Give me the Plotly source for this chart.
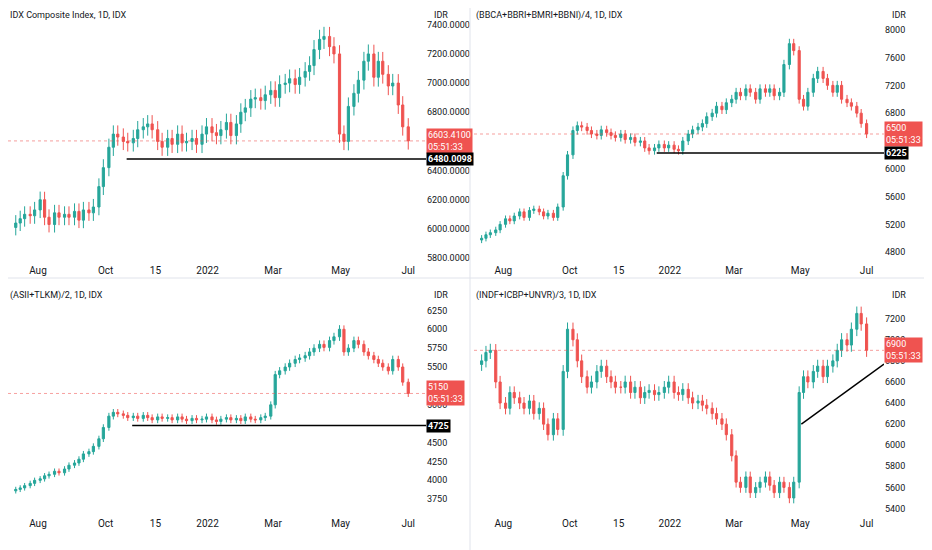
import pandas as pd
import plotly.graph_objects as go

p1 = [6040,6070,6100,
      6090,6130,6200,6080,6030,6110,6080,
      6100,6080,6120,6060,6130,6110,6150,
      6290,6420,6560,6650,6630,6600,6590,
      6620,6680,6700,6720,6680,6600,6560,
      6620,6580,6650,6590,6600,6620,6580,
      6650,6700,6660,6640,6680,6730,6640,
      6720,6800,6830,6890,6900,6880,6920,
      6950,6900,6990,7000,7030,6990,7040,
      7080,7120,7230,7300,7320,7250,7200,
      6650,6600,6840,6930,7020,7150,7200,
      7040,7150,7060,6980,7000,6850,6700,6603.41]
p2 = [5000,5050,5080,
      5120,5200,5280,5250,5320,5380,5300,
      5400,5420,5380,5320,5360,5300,5450,
      5900,6200,6550,6620,6600,6550,6500,
      6480,6560,6520,6480,6450,6500,6420,
      6450,6380,6400,6300,6260,6300,6350,
      6300,6340,6280,6260,6400,6500,6560,
      6600,6650,6750,6800,6900,6850,6950,
      7000,7100,7050,7150,7100,7000,7150,
      7100,7150,7050,7100,7500,7800,7700,
      7000,6900,7100,7300,7400,7300,7200,
      7100,7200,7000,6950,6900,6800,6650,6500]
p3 = [3880,3900,3930,
      3960,4000,4020,4060,4080,4120,4100,
      4150,4200,4230,4280,4350,4380,4450,
      4550,4700,4850,4900,4880,4860,4830,
      4850,4820,4860,4830,4800,4840,4820,
      4830,4800,4840,4810,4790,4820,4800,
      4810,4840,4800,4780,4810,4830,4800,
      4820,4790,4840,4810,4800,4830,4850,
      5000,5400,5450,5500,5550,5600,5620,
      5650,5700,5750,5800,5760,5850,5900,
      6000,5700,5750,5850,5800,5700,5650,
      5600,5550,5500,5450,5600,5500,5300,5150]
p4 = [6800,6880,6900,
      6600,6400,6350,6500,6450,6400,6350,
      6420,6300,6350,6200,6100,6250,6150,
      6700,7100,7000,6800,6650,6550,6600,
      6700,6750,6650,6600,6550,6550,6600,
      6500,6550,6450,6500,6520,6480,6500,
      6550,6600,6500,6480,6530,6450,6400,
      6420,6380,6350,6300,6250,6200,6100,
      5900,5650,5600,5700,5550,5600,5650,
      5700,5620,5550,5650,5600,5500,5650,
      6500,6650,6600,6700,6750,6650,6750,
      6800,6900,7000,6950,7100,7250,7150,6900]

titles = ["IDX Composite Index, 1D, IDX", "(BBCA+BBRI+BMRI+BBNI)/4, 1D, IDX",
          "(ASII+TLKM)/2, 1D, IDX", "(INDF+ICBP+UNVR)/3, 1D, IDX"]
last_labels = ["6603.4100", "6500", "5150", "6900"]
level_labels = ["6480.0098", "6225", "4725", None]
levels = [6480.0098, 6225, 4725, None]
level_start = ["2021-10-20", "2021-12-20", "2021-10-25", None]
trend = [("2022-05-02", 6200), ("2022-07-17", 6770)]
yticks = [list(range(5800, 7401, 200)), list(range(4800, 8001, 400)),
          list(range(3750, 6251, 250)), list(range(5400, 7201, 200))]
yranges = [[5766, 7515], [4644, 8313], [3528, 6546], [5329, 7491]]
xtick_dates = ["2021-08-01", "2021-10-01", "2021-11-15", "2022-01-01", "2022-03-01", "2022-05-01", "2022-07-01"]
xtick_text = ["Aug", "Oct", "15", "2022", "Mar", "May", "Jul"]

GREEN, RED = "#26a69a", "#ef5350"
xdoms = [[0, 418/932], [466/932, 876/932]]
ydoms = [[1-255/550, 1], [1-508/550, 1-280/550]]

fig = go.Figure()
for i, closes in enumerate([p1, p2, p3, p4]):
    n = len(closes)
    dates = pd.date_range("2021-07-12", "2022-07-01", periods=n).normalize()
    opens = [closes[0]*0.995] + closes[:-1]
    w = [c*0.009 for c in closes]
    highs = [max(o, c)+k for o, c, k in zip(opens, closes, w)]
    lows = [min(o, c)-k for o, c, k in zip(opens, closes, w)]
    xa = "x" if i == 0 else f"x{i+1}"
    ya = "y" if i == 0 else f"y{i+1}"
    fig.add_trace(go.Candlestick(x=dates, open=opens, high=highs, low=lows, close=closes,
                                 increasing=dict(line=dict(color=GREEN, width=1), fillcolor=GREEN),
                                 decreasing=dict(line=dict(color=RED, width=1), fillcolor=RED),
                                 xaxis=xa, yaxis=ya, showlegend=False, whiskerwidth=0))
    r, c = divmod(i, 2)
    sfx = "" if i == 0 else str(i+1)
    fig.layout["xaxis"+sfx] = dict(domain=xdoms[c], anchor=ya, range=["2021-07-05", "2022-07-17"],
                                  tickvals=xtick_dates, ticktext=xtick_text, showgrid=False,
                                  rangeslider=dict(visible=False), ticks="", showline=False,
                                  tickfont=dict(size=10, color="#131722"))
    fmt = (lambda v: f"{v:.4f}") if i == 0 else (lambda v: str(v))
    fig.layout["yaxis"+sfx] = dict(domain=ydoms[r], anchor=xa, side="right", range=yranges[i],
                                  tickvals=yticks[i], ticktext=[fmt(v) for v in yticks[i]],
                                  showgrid=False, zeroline=False, tickfont=dict(size=9, color="#131722"))
    xd, yd = f"x{sfx} domain", f"y{sfx} domain"
    fig.add_annotation(xref=xd, yref=yd, x=0.0, y=1.0, text=titles[i], showarrow=False,
                       xanchor="left", yanchor="top", font=dict(size=9, color="#131722"))
    fig.add_annotation(xref=xd, yref=yd, x=1.015, y=1.0, text="IDR", showarrow=False,
                       xanchor="left", yanchor="top", font=dict(size=9, color="#131722"))
    fig.add_shape(type="line", xref=xd, yref=ya, x0=0, x1=1, y0=closes[-1], y1=closes[-1],
                  line=dict(color="rgba(239,83,80,0.7)", width=0.8, dash="dot"))
    fig.add_annotation(xref=xd, yref=ya, x=1.0, y=closes[-1], text=last_labels[i] + "<br>05:51:33",
                       showarrow=False, xanchor="left", yanchor="middle", bgcolor=RED,
                       font=dict(size=9, color="white"), align="left", borderpad=1)
    if levels[i] is not None:
        fig.add_shape(type="line", xref=xa, yref=ya, x0=level_start[i], x1="2022-07-17",
                      y0=levels[i], y1=levels[i], line=dict(color="black", width=1.5))
        fig.add_annotation(xref=xd, yref=ya, x=1.0, y=levels[i], text="<b>"+level_labels[i]+"</b>",
                           showarrow=False, xanchor="left", yanchor="middle", bgcolor="black",
                           font=dict(size=9, color="white"), borderpad=1)
    else:
        fig.add_shape(type="line", xref=xa, yref=ya, x0=trend[0][0], x1=trend[1][0],
                      y0=trend[0][1], y1=trend[1][1], line=dict(color="black", width=1.5))

fig.add_shape(type="line", xref="paper", yref="paper", x0=0, x1=1, y0=1-270/550, y1=1-270/550,
              line=dict(color="#e0e3eb", width=1))
fig.add_shape(type="line", xref="paper", yref="paper", x0=462/932, x1=462/932, y0=0, y1=1,
              line=dict(color="#e0e3eb", width=1))
fig.update_layout(width=932, height=550, margin=dict(l=0, r=0, t=0, b=0),
                  paper_bgcolor="white", plot_bgcolor="white",
                  font=dict(family="Roboto", size=10))
fig.write_html("out.html")
